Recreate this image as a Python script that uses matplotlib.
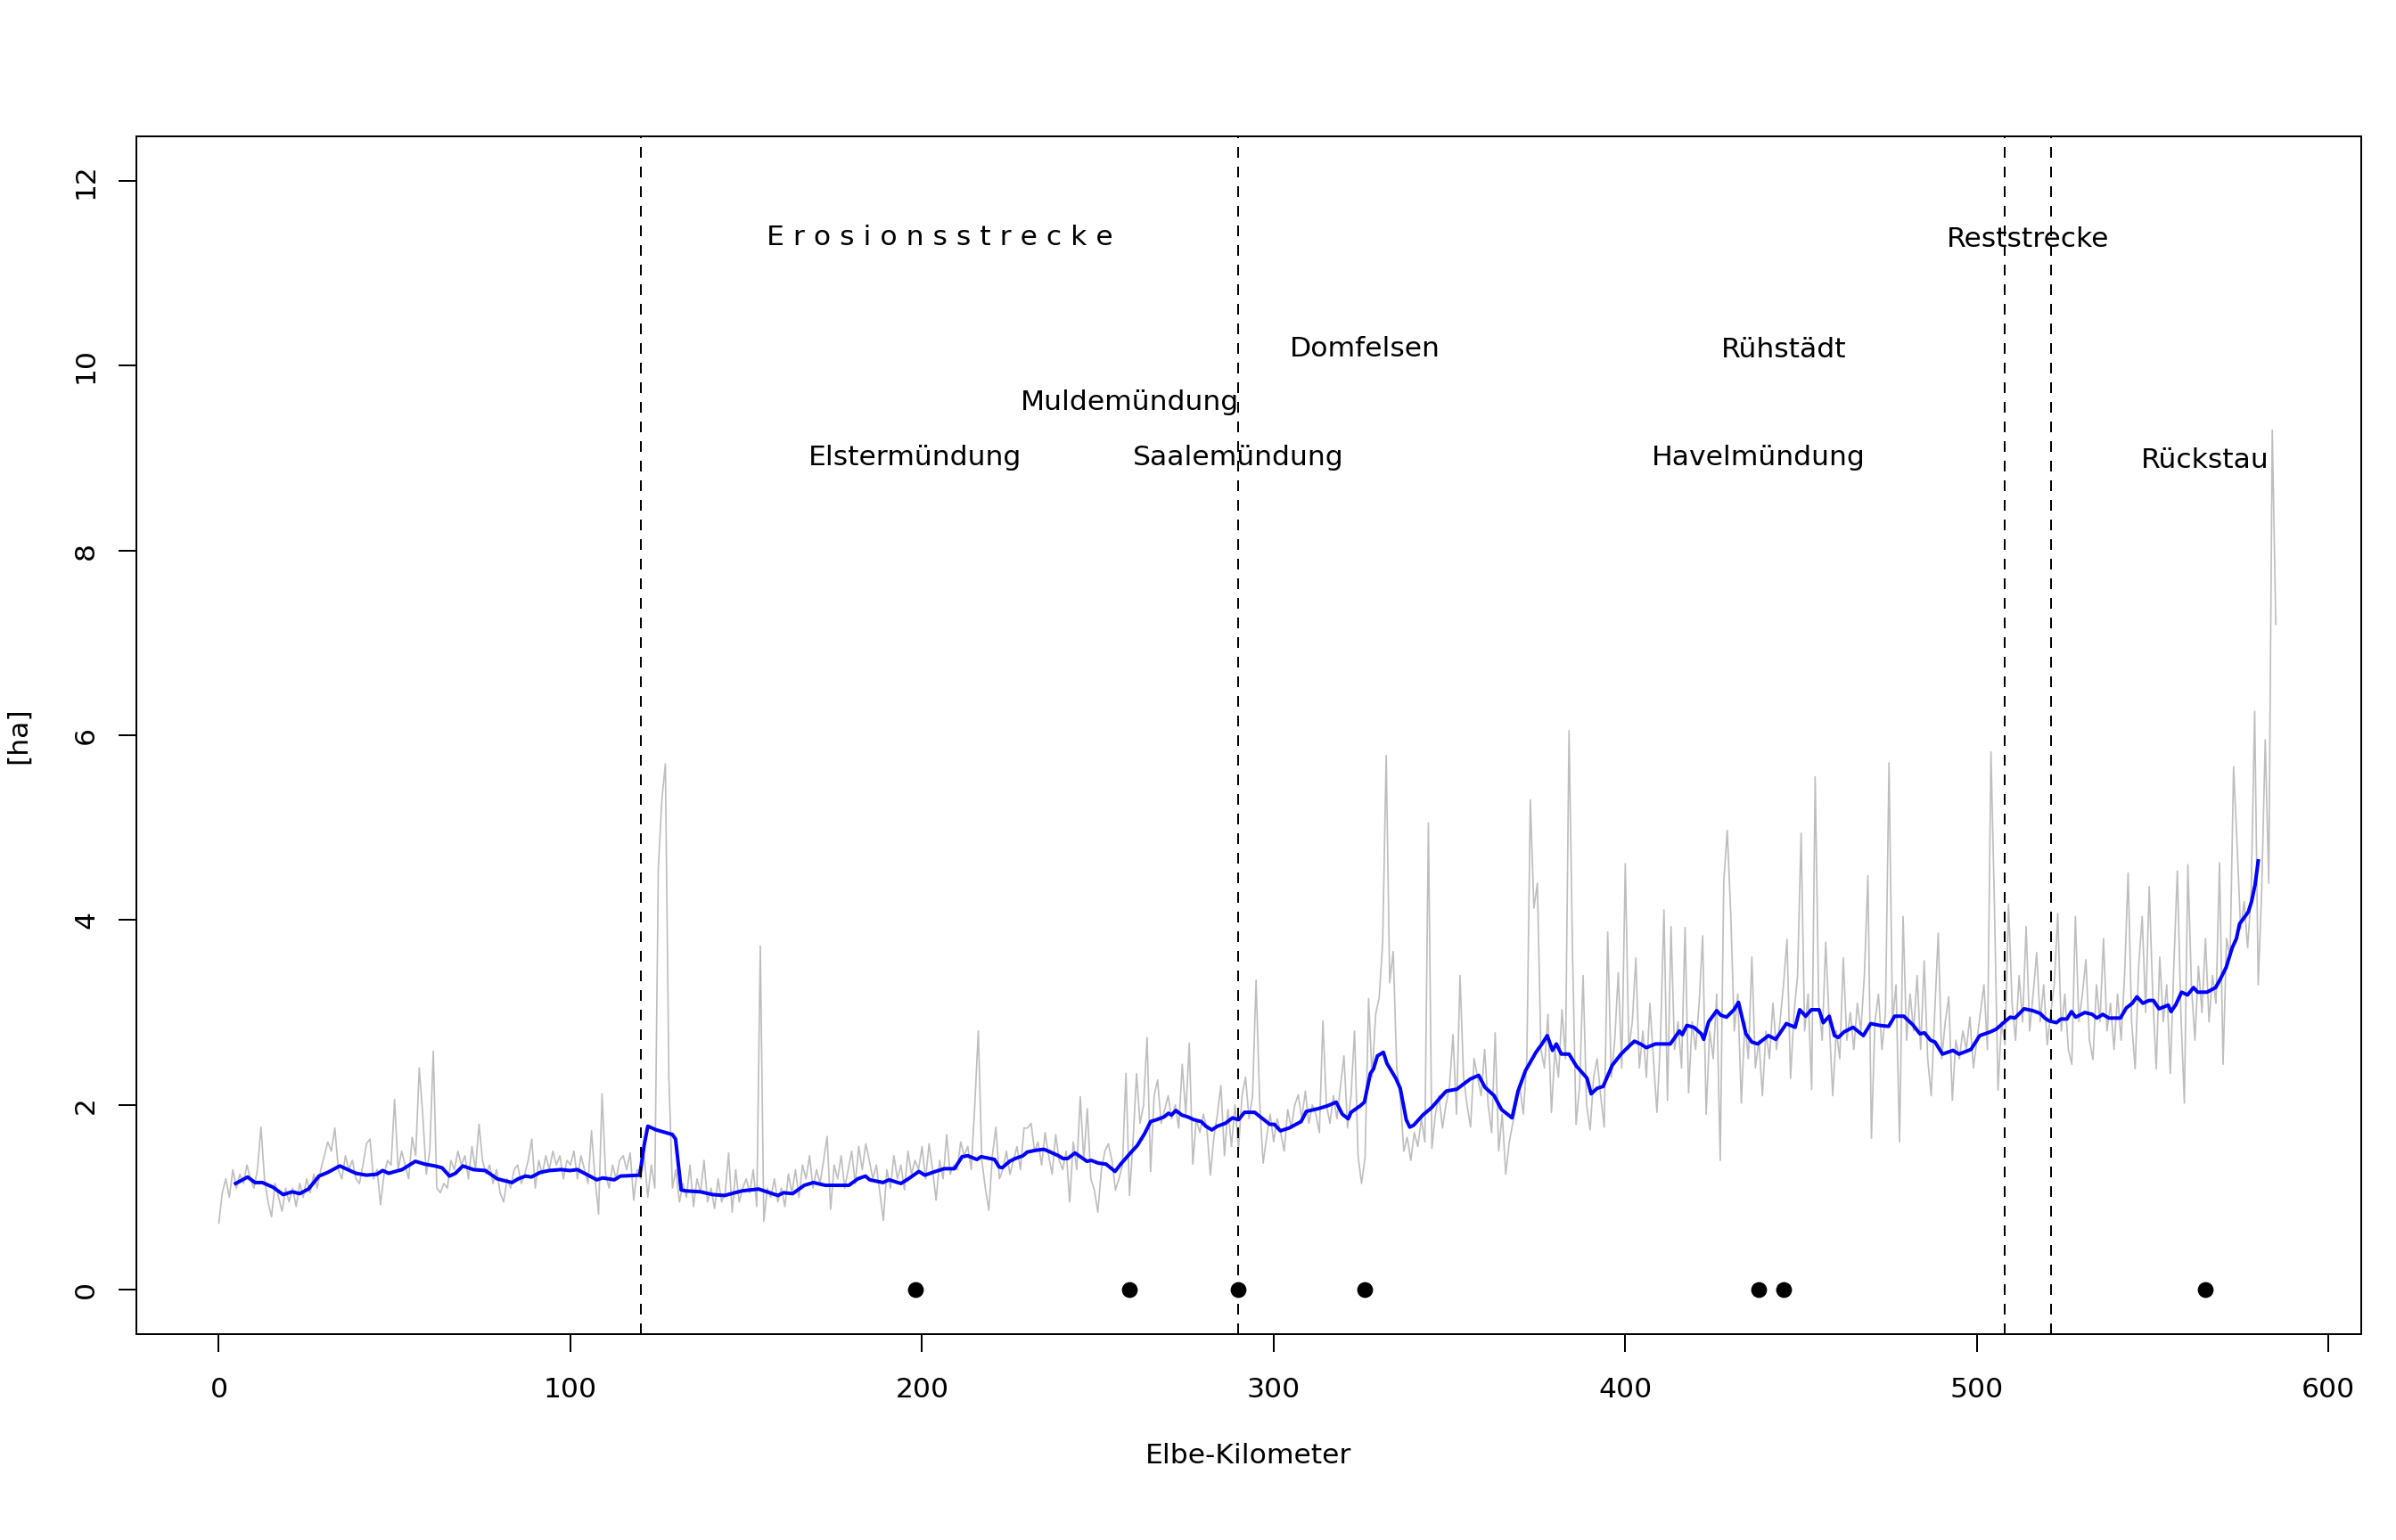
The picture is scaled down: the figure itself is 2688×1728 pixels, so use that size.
import matplotlib
matplotlib.use("Agg")
import matplotlib.pyplot as plt
import numpy as np

plt.rcParams['font.family'] = ['DejaVu Sans']

# raw values per Elbe-km (gray), starting at km 0, step 1 km
gray_start_km = 0
gray_ha = [
    0.72, 1.05, 1.2, 1.0, 1.3, 1.1, 1.25, 1.15, 1.35, 1.2,
    1.1, 1.3, 1.76, 1.2, 0.95, 0.79, 1.15, 1.0, 0.85, 1.1,
    0.95, 1.1, 0.9, 1.15, 1.0, 1.2, 1.05, 1.25, 1.1, 1.3,
    1.45, 1.6, 1.5, 1.75, 1.3, 1.2, 1.45, 1.3, 1.4, 1.2,
    1.15, 1.35, 1.58, 1.63, 1.2, 1.3, 0.92, 1.25, 1.4, 1.35,
    2.06, 1.3, 1.5, 1.35, 1.2, 1.65, 1.45, 2.4, 1.9, 1.25,
    1.5, 2.58, 1.1, 1.05, 1.15, 1.1, 1.4, 1.3, 1.5, 1.35,
    1.45, 1.2, 1.55, 1.3, 1.79, 1.4, 1.25, 1.35, 1.15, 1.3,
    1.05, 0.95, 1.2, 1.1, 1.3, 1.35, 1.15, 1.25, 1.4, 1.63,
    1.1, 1.4, 1.25, 1.45, 1.3, 1.5, 1.35, 1.45, 1.2, 1.4,
    1.35, 1.5, 1.2, 1.45, 1.3, 1.15, 1.72, 1.2, 0.82, 2.12,
    1.25, 1.1, 1.35, 1.2, 1.4, 1.45, 1.3, 1.48, 0.97, 1.3,
    1.2, 1.45, 1.0, 1.35, 1.1, 4.56, 5.3, 5.69, 2.3, 1.1,
    1.3, 0.95, 1.15, 1.0, 1.35, 0.9, 1.2, 1.05, 1.4, 0.95,
    1.1, 0.88, 1.2, 0.95, 1.05, 1.48, 0.84, 1.3, 0.95, 1.1,
    1.2, 1.05, 1.3, 0.9, 3.72, 0.74, 1.1, 1.0, 1.2, 0.95,
    1.1, 0.9, 1.25, 1.05, 1.3, 1.0, 1.35, 1.2, 1.45, 1.1,
    1.3, 1.15, 1.4, 1.66, 0.87, 1.35, 1.2, 1.45, 1.1, 1.3,
    1.5, 1.15, 1.55, 1.3, 1.58, 1.4, 1.2, 1.35, 1.05, 0.75,
    1.3, 1.1, 1.45, 1.2, 1.35, 1.08, 1.5, 1.25, 1.4, 1.3,
    1.55, 1.2, 1.58, 1.3, 0.97, 1.4, 1.2, 1.68, 1.25, 1.35,
    1.3, 1.6, 1.45, 1.55, 1.3, 2.0, 2.8, 1.4, 1.1, 0.86,
    1.45, 1.76, 1.2, 1.3, 1.5, 1.25, 1.4, 1.55, 1.3, 1.75,
    1.75, 1.8, 1.5, 1.6, 1.35, 1.7, 1.45, 1.25, 1.68, 1.4,
    1.3, 1.5, 0.95, 1.6, 1.3, 2.09, 1.4, 1.96, 1.2, 1.08,
    0.84, 1.3, 1.5, 1.58, 1.4, 1.08, 1.2, 1.35, 2.34, 1.02,
    1.6, 2.34, 1.8, 2.0, 2.73, 1.28, 2.1, 2.27, 1.8, 1.95,
    2.1, 1.85, 2.0, 1.75, 2.44, 1.9, 2.67, 1.36, 1.85, 1.7,
    1.9, 1.75, 1.24, 1.65, 1.9, 2.21, 1.45, 1.95, 1.55, 2.0,
    1.53, 2.1, 2.3, 1.85, 2.1, 3.35, 2.05, 1.37, 1.65, 1.9,
    1.6, 1.85, 1.7, 1.5, 1.95, 1.75, 2.0, 2.11, 1.85, 2.15,
    1.8, 2.0, 1.9, 1.7, 2.91, 2.0, 1.8, 2.1, 1.85, 2.2,
    2.53, 1.75, 2.1, 2.8, 1.45, 1.15, 1.44, 3.15, 2.3, 2.98,
    3.16, 3.75, 5.78, 3.32, 3.66, 2.4, 2.1, 1.5, 1.65, 1.4,
    1.7, 1.55, 1.85, 1.6, 5.05, 1.53, 1.9, 2.1, 1.75, 2.0,
    2.2, 2.76, 1.9, 3.4, 2.3, 2.0, 1.76, 2.5, 2.3, 2.1,
    2.6, 2.0, 1.7, 2.78, 1.5, 1.9, 1.25, 1.6, 1.8, 2.0,
    2.2, 1.9, 2.5, 5.3, 4.13, 4.4, 2.6, 2.4, 2.98, 1.92,
    2.6, 2.3, 3.03, 2.5, 6.05, 3.64, 1.79, 2.2, 3.4, 2.0,
    1.73, 2.3, 2.5, 2.1, 1.76, 3.87, 2.3, 2.7, 3.43, 2.4,
    4.61, 2.6, 2.9, 3.59, 2.4, 2.8, 2.3, 3.1, 2.5, 1.92,
    2.7, 4.11, 2.05, 3.93, 2.6, 2.9, 2.4, 3.92, 2.13, 2.9,
    2.6, 3.1, 3.83, 1.9, 2.8, 2.5, 3.2, 1.4, 4.41, 4.97,
    4.06, 2.8, 3.2, 2.02, 2.9, 2.5, 3.6, 2.4, 2.7, 2.1,
    2.8, 2.5, 3.1, 2.6, 2.9, 3.3, 3.79, 2.29, 3.0, 3.4,
    4.94, 2.8, 3.2, 2.17, 5.55, 3.1, 2.7, 3.76, 2.9, 2.1,
    2.8, 2.5, 3.59, 2.7, 3.0, 2.6, 3.1, 2.8, 3.41, 4.48,
    1.64, 2.9, 3.2, 2.6, 3.0, 5.7, 2.9, 3.3, 1.6, 4.04,
    2.7, 3.2, 2.8, 3.4, 2.6, 3.56, 2.5, 2.1, 3.0, 3.86,
    2.5, 2.9, 3.17, 2.05, 2.7, 2.5, 2.8, 2.6, 2.95, 2.4,
    2.7, 3.0, 3.3, 2.6, 5.82, 4.13, 2.16, 2.9, 2.65, 4.17,
    3.1, 2.7, 3.4, 2.9, 3.93, 2.8, 3.2, 3.65, 2.9, 3.3,
    2.65, 3.0, 3.3, 4.07, 2.8, 3.2, 2.6, 2.44, 4.04, 2.9,
    3.2, 3.57, 2.7, 2.49, 3.3, 2.9, 3.8, 2.8, 3.1, 2.6,
    3.2, 2.7, 3.4, 4.51, 2.9, 2.39, 3.5, 4.04, 3.0, 4.36,
    3.2, 2.39, 3.6, 2.9, 3.3, 2.34, 3.5, 4.53, 3.0, 2.02,
    4.6, 3.3, 2.7, 3.5, 3.0, 3.8, 2.9, 3.4, 3.1, 4.62,
    2.44, 3.8, 3.6, 5.66, 4.81, 3.9, 4.2, 3.7, 4.3, 6.26,
    3.3, 4.33, 5.95, 4.4, 9.3, 7.2,
]

# smoothed curve (blue)
blue_km = [
    4.8, 8.2, 10.3, 12.4, 15.4, 18.3, 20.9, 23.0, 25.5, 28.5, 31.0, 34.4, 39.0, 42.0,
    44.9, 46.6, 48.3, 52.1, 55.9, 58.5, 61.4, 63.5, 65.6, 67.3, 69.4, 72.4, 75.8, 79.2,
    83.4, 85.1, 87.2, 88.9, 91.4, 94.0, 97.3, 99.9,
    102.0, 105.0, 107.5, 109.2, 112.5, 114.2, 119.7, 121.0, 122.0, 124.4, 129.0, 129.9,
    131.5, 132.8, 137.0, 140.4, 143.8, 148.8, 153.5, 159.0, 160.6, 163.2, 166.5, 169.1,
    172.5, 175.8, 179.2, 181.7, 183.9, 185.1, 188.9, 190.6, 194.0, 196.1, 199.1, 200.8, 203.8,
    206.3, 209.2, 211.4, 213.0, 215.6, 216.8, 220.6, 221.9, 222.8, 224.9, 226.5, 228.7,
    229.9, 232.5, 234.6, 235.9, 238.8, 240.1, 241.4, 243.5, 246.9, 248.1, 250.2, 252.3,
    254.9, 256.5, 259.5, 261.2, 263.3, 265.0, 266.7, 268.8, 270.1, 270.9, 272.2, 273.9,
    275.6, 277.3, 279.4, 280.7, 282.4, 284.0, 286.2, 288.3, 290.0, 291.7, 294.6, 295.9,
    298.9, 300.2, 301.9, 304.4, 307.8,
    309.3, 312.7, 315.3, 317.8, 319.5, 321.2, 322.0, 324.6, 325.8, 327.5, 328.4, 329.5,
    331.2, 332.2, 334.7, 336.0, 337.7, 338.7, 339.8, 342.4, 344.9, 347.4, 349.1, 352.1,
    353.8, 355.9, 358.3, 360.1, 362.7, 364.8, 367.8, 369.5, 371.6, 374.6, 376.3, 377.8,
    379.3, 380.4, 381.8, 384.0, 386.1, 389.1, 390.3, 392.0, 393.7, 396.3, 398.8, 400.9,
    402.6, 404.3, 406.0, 408.6, 412.8,
    415.4, 416.2, 417.5, 419.5, 421.6, 422.3, 423.7, 426.0, 427.2, 428.8, 430.9, 432.2,
    434.3, 436.0, 437.7, 439.0, 440.7, 442.8, 445.8, 448.3, 449.6, 451.3, 452.9, 455.1,
    456.3, 458.0, 459.5, 460.6, 462.2, 464.8, 467.7, 469.8, 472.4, 474.9, 476.6, 479.2,
    481.7, 483.8, 485.1, 486.8, 488.1, 490.2, 493.2, 494.9, 498.3, 500.8, 503.8, 505.5,
    507.9, 509.5, 510.8, 513.4, 515.9, 518.0, 519.3, 520.5, 522.6, 523.9, 525.6, 526.9,
    528.1, 530.7, 532.8, 534.1, 535.8, 537.5, 540.8, 542.5, 544.2, 545.5, 547.2, 548.9,
    550.2, 551.8, 554.4, 555.2, 556.5, 558.2, 559.9, 561.6, 562.8, 565.4, 567.9, 569.2,
    570.9, 572.6, 573.8, 574.7, 575.5, 577.2, 578.1, 579.1, 580.0,
]
blue_ha = [
    1.15, 1.22, 1.16, 1.16, 1.11, 1.03, 1.06, 1.04, 1.09, 1.23, 1.27, 1.34, 1.26, 1.24,
    1.25, 1.29, 1.26, 1.30, 1.39, 1.36, 1.34, 1.32, 1.23, 1.26, 1.34, 1.30, 1.29, 1.20,
    1.16, 1.20, 1.23, 1.22, 1.27, 1.29, 1.30, 1.29,
    1.30, 1.24, 1.19, 1.21, 1.19, 1.23, 1.24, 1.57, 1.77, 1.73, 1.68, 1.63,
    1.08, 1.07, 1.06, 1.03, 1.02, 1.07, 1.09, 1.02, 1.05, 1.04, 1.13, 1.16,
    1.13, 1.13, 1.13, 1.20, 1.23, 1.19, 1.16, 1.19, 1.15, 1.20, 1.28, 1.24, 1.28,
    1.31, 1.31, 1.44, 1.45, 1.41, 1.44, 1.41, 1.33, 1.32, 1.39, 1.42, 1.45,
    1.49, 1.51, 1.52, 1.50, 1.45, 1.42, 1.42, 1.48, 1.39, 1.40, 1.37, 1.36,
    1.28, 1.36, 1.49, 1.56, 1.69, 1.82, 1.84, 1.87, 1.91, 1.89, 1.94, 1.89,
    1.87, 1.84, 1.82, 1.77, 1.73, 1.77, 1.80, 1.86, 1.84, 1.92, 1.92, 1.88,
    1.79, 1.79, 1.72, 1.75, 1.82,
    1.93, 1.96, 1.99, 2.03, 1.90, 1.85, 1.92, 1.99, 2.03, 2.34, 2.39, 2.53,
    2.57, 2.45, 2.29, 2.18, 1.84, 1.76, 1.78, 1.89, 1.97, 2.08, 2.15, 2.17,
    2.22, 2.28, 2.32, 2.19, 2.10, 1.95, 1.86, 2.15, 2.37, 2.57, 2.66, 2.75,
    2.59, 2.66, 2.55, 2.55, 2.42, 2.29, 2.12, 2.18, 2.20, 2.43, 2.55, 2.63,
    2.69, 2.66, 2.62, 2.66, 2.66,
    2.80, 2.76, 2.86, 2.84, 2.77, 2.71, 2.90, 3.02, 2.97, 2.95, 3.03, 3.11,
    2.77, 2.68, 2.66, 2.70, 2.75, 2.71, 2.88, 2.84, 3.03, 2.96, 3.03, 3.03,
    2.89, 2.96, 2.75, 2.73, 2.79, 2.84, 2.75, 2.88, 2.86, 2.85, 2.96, 2.96,
    2.87, 2.77, 2.78, 2.70, 2.68, 2.55, 2.59, 2.55, 2.60, 2.75, 2.79, 2.82,
    2.90, 2.95, 2.94, 3.04, 3.02, 2.99, 2.94, 2.91, 2.89, 2.93, 2.93, 3.01,
    2.95, 3.00, 2.98, 2.94, 2.98, 2.94, 2.94, 3.05, 3.10, 3.17, 3.10, 3.13,
    3.13, 3.04, 3.08, 3.01, 3.08, 3.22, 3.19, 3.27, 3.22, 3.22, 3.27, 3.36,
    3.49, 3.70, 3.80, 3.96, 4.00, 4.09, 4.20, 4.38, 4.64,
]

# section boundaries and landmarks
boundary_km = [120, 290, 508, 521]
landmark_km = [198, 259, 290, 326, 438, 445, 565]

label_texts = ["E r o s i o n s s t r e c k e", "Reststrecke", "Domfelsen", "Rühstädt",
               "Muldemündung", "Elstermündung", "Saalemündung", "Havelmündung", "Rückstau"]
label_km = [205, 514.5, 326, 445, 259, 198, 290, 438, 565]
label_y = [11.3, 11.28, 10.1, 10.09, 9.52, 8.92, 8.92, 8.92, 8.89]

x_ticks = [0, 100, 200, 300, 400, 500, 600]
y_ticks = [0, 2, 4, 6, 8, 10, 12]

W, H, DPI = 2688, 1728, 200
fig = plt.figure(figsize=(W / DPI, H / DPI), dpi=DPI)
L, R, T, B = 153, 2649, 153, 1497
ax = fig.add_axes([L / W, 1 - B / H, (R - L) / W, (B - T) / H])

px = 72.0 / DPI  # one pixel in points
fs = 11.3

gray_km = gray_start_km + np.arange(len(gray_ha))
ax.plot(gray_km, gray_ha, color='#BEBEBE', lw=1.7 * px, zorder=2)
ax.plot(blue_km, blue_ha, color='#0000FF', lw=4 * px, zorder=3, solid_joinstyle='round')

for xv in boundary_km:
    ax.axvline(xv, color='black', lw=2 * px, dashes=(6, 5), zorder=4)

ax.plot(landmark_km, [0] * len(landmark_km), 'o', color='black', ms=15 * px, zorder=5)

for t, xk, yk in zip(label_texts, label_km, label_y):
    ax.text(xk, yk, t, ha='center', va='baseline', fontsize=fs, color='black', zorder=6)

ax.set_xlim(-23.44, 609.3)
ax.set_ylim(-0.48, 12.48)
ax.set_xticks(x_ticks)
ax.set_yticks(y_ticks)
ax.set_xticklabels([str(v) for v in x_ticks])
ax.set_yticklabels([str(v) for v in y_ticks], rotation=90, va='center')
ax.tick_params(axis='both', direction='out', length=20 * px, width=2 * px,
               labelsize=fs, colors='black')
ax.tick_params(axis='x', pad=28 * px)
ax.tick_params(axis='y', pad=22 * px)
for s in ax.spines.values():
    s.set_linewidth(2 * px)
    s.set_color('black')

fig.text(((L + R) / 2) / W, 1 - 1633 / H, 'Elbe-Kilometer', ha='center', va='center', fontsize=fs)
fig.text(20 / W, 1 - ((T + B) / 2) / H, '[ha]', ha='center', va='center', rotation=90, fontsize=fs)

fig.savefig('out.png', dpi=DPI, facecolor='white')
